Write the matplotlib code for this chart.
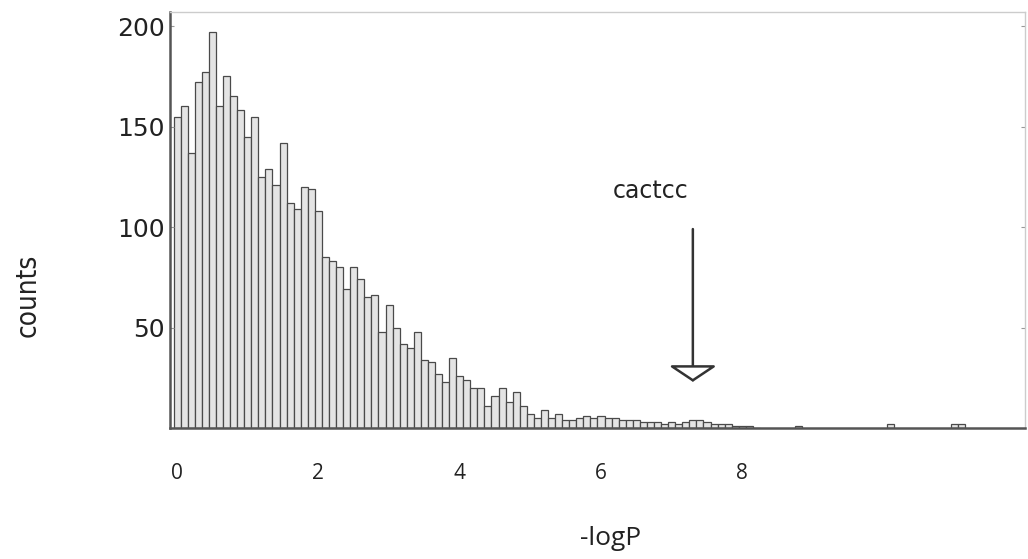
import numpy as np
import matplotlib.pyplot as plt

# Histogramm der -logP-Werte (Klassenbreite 0.1)
bin_width = 0.1
counts_main = [155, 160, 137, 172, 177, 197, 160, 175, 165, 158,
               145, 155, 125, 129, 121, 142, 112, 109, 120, 119,
               108, 85, 83, 80, 69, 80, 74, 65, 66, 48,
               61, 50, 42, 40, 48, 34, 33, 27, 23, 35,
               26, 24, 20, 20, 11, 16, 20, 13, 18, 11,
               7, 5, 9, 5, 7, 4, 4, 5, 6, 5,
               6, 5, 5, 4, 4, 4, 3, 3, 3, 2,
               3, 2, 3, 4, 4, 3, 2, 2, 2, 1,
               1, 1, 0]
bin_centers = np.arange(len(counts_main)) * bin_width

# vereinzelte Werte weiter rechts
tail_x = [8.8, 10.1, 11.0, 11.1]
tail_counts = [1, 2, 2, 2]

x_ticks = [0, 2, 4, 6, 8]
y_ticks = [50, 100, 150, 200]

motif = "cactcc"
motif_x = 7.3
motif_text_x = 6.7
arrow_top, arrow_tip = 99, 23
text_y = 118

fig = plt.figure(figsize=(10.28, 5.59), dpi=100)
ax = fig.add_axes([0.1654, 0.2343, 0.8316, 0.7442])

ax.bar(bin_centers, counts_main, width=bin_width, color="#e4e4e4",
       edgecolor="#4a4a4a", linewidth=0.9)
ax.bar(tail_x, tail_counts, width=bin_width, color="#e4e4e4",
       edgecolor="#4a4a4a", linewidth=0.9)

ax.set_xlim(-0.1, 12.0)
ax.set_ylim(0, 207)

ax.set_xticks(x_ticks)
ax.set_yticks(y_ticks)
ax.set_xticklabels([str(t) for t in x_ticks], fontsize=15,
                   family=["Open Sans", "DejaVu Sans"], color="#222222")
ax.set_yticklabels([str(t) for t in y_ticks], fontsize=18, color="#222222")
ax.tick_params(axis="x", direction="in", length=0, pad=25)
ax.tick_params(axis="y", direction="in", length=3, pad=4, color="#999999",
               right=True)
ax.tick_params(axis="x", top=True)

for side in ["left", "bottom"]:
    ax.spines[side].set_color("#555555")
    ax.spines[side].set_linewidth(1.8)
for side in ["top", "right"]:
    ax.spines[side].set_color("#cccccc")
    ax.spines[side].set_linewidth(1.0)

ax.set_ylabel("counts", fontsize=20, family=["Liberation Sans Narrow", "DejaVu Sans"],
              fontstretch="condensed", color="#222222")
ax.yaxis.set_label_coords(-0.15, 0.32)
ax.set_xlabel("-logP", fontsize=19, family=["Open Sans", "DejaVu Sans"],
              color="#222222")
ax.xaxis.set_label_coords(0.515, -0.235)

ax.text(motif_text_x, text_y, motif, fontsize=17, ha="center", va="center",
        color="#222222")
ax.annotate("", xy=(motif_x, arrow_tip), xytext=(motif_x, arrow_top),
            arrowprops=dict(arrowstyle="-|>,head_length=1.0,head_width=1.5",
                            fc="white", ec="#333333", lw=1.8,
                            shrinkA=0, shrinkB=0))

fig.savefig("out.png", dpi=100)
